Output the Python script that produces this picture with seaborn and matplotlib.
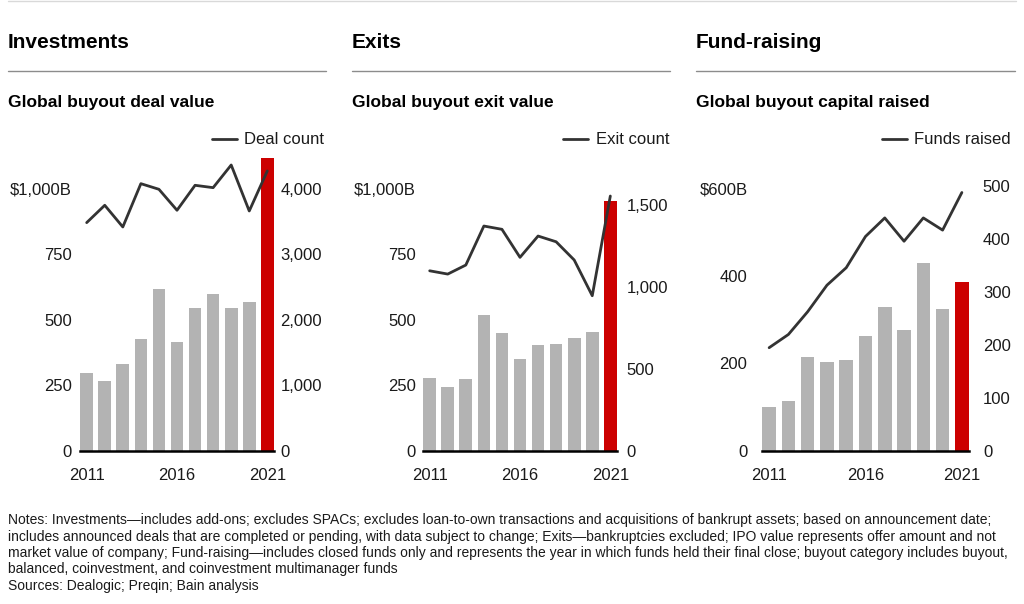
import numpy as np
import pandas as pd
import matplotlib
matplotlib.use("Agg")
import matplotlib.pyplot as plt
from matplotlib.lines import Line2D
import seaborn as sns

# ---------------- data ----------------
years = [str(y) for y in range(2011, 2022)]
xtick_years = ["2011", "2016", "2021"]

deal_value = [299, 267, 331, 426, 617, 417, 547, 600, 547, 570, 1117]
deal_count = [3486, 3751, 3420, 4081, 3995, 3675, 4056, 4020, 4366, 3664, 4275]

exit_value = [277, 245, 274, 519, 449, 350, 406, 407, 432, 455, 955]
exit_count = [1099, 1079, 1134, 1372, 1352, 1181, 1311, 1276, 1165, 947, 1555]

capital_raised = [100, 114, 215, 202, 208, 262, 329, 276, 429, 325, 385]
funds_raised = [195, 220, 263, 313, 346, 405, 440, 396, 440, 417, 488]

section_titles = ["Investments", "Exits", "Fund-raising"]
subtitles = ["Global buyout deal value", "Global buyout exit value", "Global buyout capital raised"]
legend_labels = ["Deal count", "Exit count", "Funds raised"]

left_ticks = [[0, 250, 500, 750, 1000], [0, 250, 500, 750, 1000], [0, 200, 400, 600]]
left_ticklabels = [["0", "250", "500", "750", "$1,000B"],
                   ["0", "250", "500", "750", "$1,000B"],
                   ["0", "200", "400", "$600B"]]
right_ticks = [[0, 1000, 2000, 3000, 4000], [0, 500, 1000, 1500], [0, 100, 200, 300, 400, 500]]
right_ticklabels = [["0", "1,000", "2,000", "3,000", "4,000"],
                    ["0", "500", "1,000", "1,500"],
                    ["0", "100", "200", "300", "400", "500"]]

notes_lines = [
    "Notes: Investments\u2014includes add-ons; excludes SPACs; excludes loan-to-own transactions and acquisitions of bankrupt assets; based on announcement date;",
    "includes announced deals that are completed or pending, with data subject to change; Exits\u2014bankruptcies excluded; IPO value represents offer amount and not",
    "market value of company; Fund-raising\u2014includes closed funds only and represents the year in which funds held their final close; buyout category includes buyout,",
    "balanced, coinvestment, and coinvestment multimanager funds",
    "Sources: Dealogic; Preqin; Bain analysis",
]

bar_values = [deal_value, exit_value, capital_raised]
line_values = [deal_count, exit_count, funds_raised]

# ---------------- style ----------------
sns.set_theme(style="white")
plt.rcParams['font.family'] = ['Liberation Sans', 'DejaVu Sans']

GRAY = "#b3b3b3"
RED = "#cc0000"
LINE = "#333333"
TXT = "#1a1a1a"

W, H = 1024, 604
fig = plt.figure(figsize=(W / 100, H / 100), dpi=100)

def fx(px):
    return px / W

def fy(py):
    return 1 - py / H

panels = [
    dict(l=80, r=274, sx=8, rr=326, ylim_l=1122, ylim_r=4488, padl=6, padr=4.5, leg_r=324),
    dict(l=423, r=617, sx=352, rr=670, ylim_l=1122, ylim_r=1793, padl=5, padr=7, leg_r=669),
    dict(l=762, r=969, sx=696, rr=1015, ylim_l=671, ylim_r=555, padl=10.5, padr=10, leg_r=1011),
]
AX_TOP, AX_BOT = 157, 451

for i, p in enumerate(panels):
    ax = fig.add_axes([fx(p["l"]), fy(AX_BOT), fx(p["r"] - p["l"]), (AX_BOT - AX_TOP) / H])
    df = pd.DataFrame({"year": years, "value": bar_values[i]})
    colors = {y: (RED if y == years[-1] else GRAY) for y in years}
    sns.barplot(data=df, x="year", y="value", hue="year", palette=colors,
                legend=False, ax=ax, width=0.7, saturation=1, linewidth=0)
    ax.set_xlim(-0.37, len(years) - 1 + 0.37)
    ax.set_ylim(0, p["ylim_l"])
    ax.set_yticks(left_ticks[i])
    ax.set_yticklabels(left_ticklabels[i])
    ax.set_xticks([years.index(y) for y in xtick_years])
    ax.set_xticklabels(xtick_years)
    ax.set_xlabel("")
    ax.set_ylabel("")
    for s in ["top", "right", "left"]:
        ax.spines[s].set_visible(False)
    ax.spines["bottom"].set_color("black")
    ax.spines["bottom"].set_linewidth(1.8)
    ax.spines["bottom"].set_zorder(5)
    ax.tick_params(axis="y", length=0, pad=p["padl"], labelsize=12, colors=TXT)
    ax.tick_params(axis="x", length=0, pad=12, labelsize=12, colors=TXT)
    ax.grid(False)

    ax2 = ax.twinx()
    ldf = pd.DataFrame({"pos": np.arange(len(years)), "count": line_values[i]})
    sns.lineplot(data=ldf, x="pos", y="count", ax=ax2, color=LINE, linewidth=2)
    ax2.set_xlim(ax.get_xlim())
    ax2.set_ylim(0, p["ylim_r"])
    ax2.set_yticks(right_ticks[i])
    ax2.set_yticklabels(right_ticklabels[i])
    ax2.set_ylabel("")
    ax2.set_xlabel("")
    for s in ["top", "right", "left", "bottom"]:
        ax2.spines[s].set_visible(False)
    ax2.tick_params(axis="y", length=0, pad=p["padr"], labelsize=12, colors=TXT)
    ax2.grid(False)

    handle = Line2D([], [], color=LINE, linewidth=2)
    ax2.legend([handle], [legend_labels[i]], loc="center right",
               bbox_to_anchor=(fx(p["leg_r"]), fy(140)), bbox_transform=fig.transFigure,
               frameon=False, fontsize=12, handlelength=1.5, handletextpad=0.45,
               borderpad=0, borderaxespad=0, labelcolor=TXT)

    fig.text(fx(p["sx"]), fy(42), section_titles[i], fontsize=15, fontweight="bold",
             color="black", ha="left", va="center")
    fig.add_artist(Line2D([fx(p["sx"]), fx(p["rr"])], [fy(70.5), fy(70.5)],
                          color="#8c8c8c", linewidth=1.0, transform=fig.transFigure))
    fig.text(fx(p["sx"]), fy(102), subtitles[i], fontsize=12.5, fontweight="bold",
             color="black", ha="left", va="center")

fig.add_artist(Line2D([fx(8), fx(1016)], [fy(0.6), fy(0.6)], color="#d9d9d9",
                      linewidth=1.0, transform=fig.transFigure))

note_y = [520, 536.5, 553, 569.5, 586]
for txt, y in zip(notes_lines, note_y):
    fig.text(fx(8), fy(y), txt, fontsize=10, color=TXT, ha="left", va="center")

fig.savefig("out.png", dpi=100)
